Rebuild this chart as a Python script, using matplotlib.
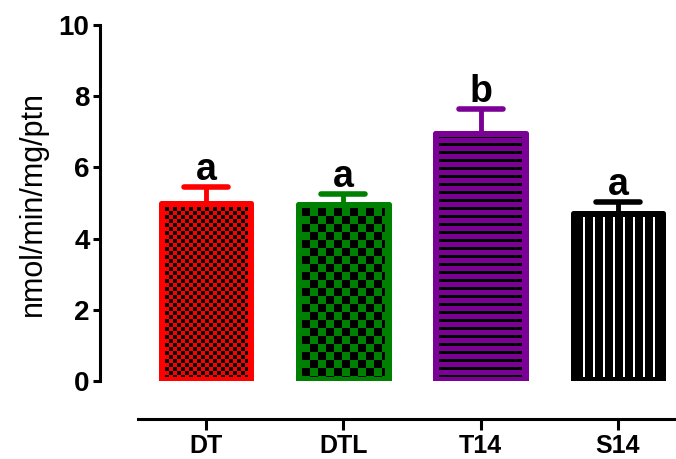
import numpy as np
import matplotlib
matplotlib.use("Agg")
import matplotlib.pyplot as plt

groups = ["DT", "DTL", "T14", "S14"]
means = [5.0, 4.97, 6.96, 4.73]
sems = [0.46, 0.29, 0.67, 0.31]
letters = ["a", "a", "b", "a"]
colors = ["#FF0000", "#008000", "#7B0096", "#000000"]
yticks = [0, 2, 4, 6, 8, 10]

# fill pattern for each bar: (kind, period in px, pattern colour)
patterns = [("checker", 4, "black"), ("checker", 8, "black"),
            ("hlines", 8, "black"), ("vlines", 10, "white")]

plt.rcParams["font.family"] = ["Liberation Sans", "DejaVu Sans"]
plt.rcParams["font.weight"] = "bold"


def texture(kind, period, col, w, h):
    yy, xx = np.mgrid[0:h, 0:w]
    if kind == "checker":
        mask = ((xx // period) + (yy // period)) % 2 == 0
    elif kind == "hlines":
        mask = (yy - 6) % period < 3
    else:
        mask = (xx - 6) % period < 2
    img = np.zeros((h, w, 4))
    img[mask, :3] = matplotlib.colors.to_rgb(col)
    img[mask, 3] = 1.0
    return img


fig = plt.figure(figsize=(6.76, 4.59), dpi=100)
ax = fig.add_axes([100 / 676, 78 / 459, 576 / 676, 356 / 459])
xmin, xmax = -0.772, 3.423
ax.set_xlim(xmin, xmax)
ax.set_ylim(0, 10)

x = np.arange(len(groups))
width = 0.66
faces = ax.bar(x, means, width, color=colors, linewidth=0, zorder=1)

# pattern images inside each bar
inset = 4
for rect, (kind, per, pcol) in zip(faces, patterns):
    (x0, y0), (x1, y1) = ax.transData.transform(
        [[rect.get_x(), rect.get_y()],
         [rect.get_x() + rect.get_width(), rect.get_y() + rect.get_height()]])
    x0, y0, x1, y1 = x0 + inset, y0 + inset, x1 - inset, y1 - inset
    w, h = int(round(x1 - x0)), int(round(y1 - y0))
    (dx0, dy0), (dx1, dy1) = ax.transData.inverted().transform([[x0, y0], [x0 + w, y0 + h]])
    ax.imshow(texture(kind, per, pcol, w, h), extent=(dx0, dx1, dy0, dy1),
              origin="upper", interpolation="nearest", aspect="auto", zorder=2)

ax.bar(x, means, width, facecolor="none", edgecolor=colors, linewidth=3.6,
       joinstyle="round", zorder=3)

tops = np.array(means) + np.array(sems)
ax.vlines(x, means, tops, colors=colors, linewidth=3.5, zorder=2.5)
ax.hlines(tops, x - 0.16, x + 0.16, colors=colors, linewidth=4, capstyle="round", zorder=4)

for xi, t, let in zip(x, tops, letters):
    ax.annotate(let, (xi, t), xytext=(0, 5), textcoords="offset points",
                ha="center", va="baseline", fontsize=27, fontweight="bold")

ax.set_xlim(xmin, xmax)
ax.set_ylim(0, 10)
ax.set_xticks(x)
ax.set_xticklabels(groups)
ax.set_yticks(yticks)
ax.set_ylabel("nmol/min/mg/ptn", fontsize=22, fontweight="normal", labelpad=8)

for s in ["top", "right"]:
    ax.spines[s].set_visible(False)
for s in ["left", "bottom"]:
    ax.spines[s].set_linewidth(2.2)
ax.spines["left"].set_bounds(0, 10)
ax.spines["bottom"].set_position(("outward", 27))
ax.spines["bottom"].set_bounds(-0.495, xmax)
ax.tick_params(axis="y", length=5, width=2.2, labelsize=20, pad=2.5)
ax.tick_params(axis="x", length=8, width=2.2, labelsize=18, pad=3)

fig.savefig("out.png", dpi=100)
plt.close(fig)
